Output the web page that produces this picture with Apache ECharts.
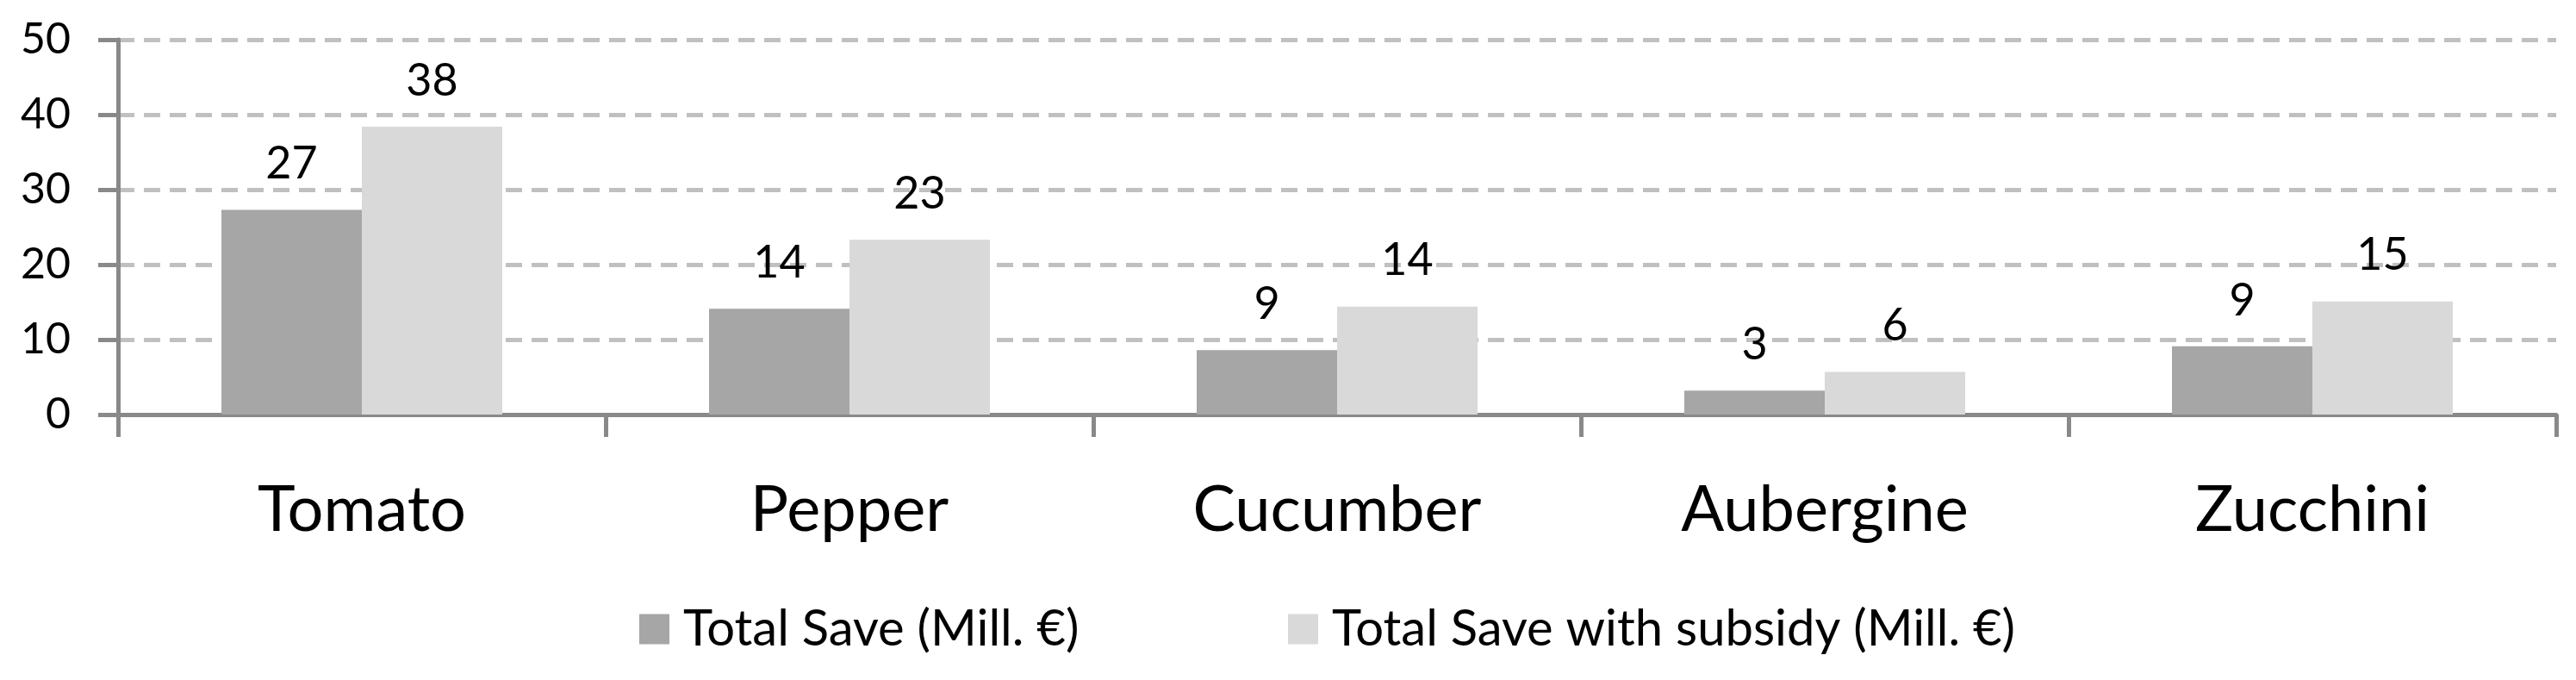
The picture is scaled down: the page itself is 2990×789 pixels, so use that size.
<!DOCTYPE html>
<html>
<head>
<meta charset="utf-8">
<script src="https://cdn.jsdelivr.net/npm/echarts@6/dist/echarts.min.js"></script>
<style>
html,body{margin:0;padding:0;background:#fff;}
#chart{width:2990px;height:789px;}
</style>
</head>
<body>
<div id="chart"></div>
<script>
const categories = ['Tomato', 'Pepper', 'Cucumber', 'Aubergine', 'Zucchini'];
const seriesNames = ['Total Save (Mill. €)', 'Total Save with subsidy (Mill. €)'];
const totalSave = [27.3, 14.1, 8.6, 3.2, 9.1];
const totalSaveSubsidy = [38.4, 23.3, 14.4, 5.7, 15.1];
const yTicks = [0, 10, 20, 30, 40, 50];

const FONT = 'Lato';
const chart = echarts.init(document.getElementById('chart'), null, {renderer: 'canvas'});
const labelStyle = {
  show: true, position: 'top', distance: 27,
  fontFamily: FONT, fontSize: 52, color: '#000',
  formatter: p => String(Math.round(p.value))
};
const legendText = {fontFamily: FONT, fontSize: 58, color: '#000', padding: [0, 0, 0, 11]};
chart.setOption({
  animation: false,
  backgroundColor: '#fff',
  grid: {left: 137, right: 23, top: 46, bottom: 308, containLabel: false},
  legend: [
    {data: [seriesNames[0]], left: 737, top: 696, itemWidth: 35, itemHeight: 35, itemGap: 0,
     icon: 'rect', textStyle: legendText},
    {data: [seriesNames[1]], left: 1490, top: 696, itemWidth: 35, itemHeight: 35, itemGap: 0,
     icon: 'rect', textStyle: legendText}
  ],
  xAxis: {
    type: 'category', data: categories,
    axisLine: {show: true, lineStyle: {color: '#898989', width: 5}},
    axisTick: {show: true, length: 26, lineStyle: {color: '#898989', width: 5}},
    axisLabel: {fontFamily: FONT, fontSize: 74, color: '#000', margin: 74}
  },
  yAxis: {
    type: 'value', min: yTicks[0], max: yTicks[yTicks.length - 1], interval: 10,
    axisLine: {show: true, lineStyle: {color: '#898989', width: 5}},
    axisTick: {show: true, length: 23, lineStyle: {color: '#898989', width: 5}},
    axisLabel: {fontFamily: FONT, fontSize: 50, color: '#000', margin: 55},
    splitLine: {show: true, lineStyle: {color: '#c0c0c0', width: 5, type: [19, 11]}}
  },
  series: [
    {name: seriesNames[0], type: 'bar', data: totalSave, barWidth: 163, barGap: '0%',
     itemStyle: {color: '#a6a6a6'}, label: labelStyle},
    {name: seriesNames[1], type: 'bar', data: totalSaveSubsidy, barWidth: 163, barGap: '0%',
     itemStyle: {color: '#d9d9d9'}, label: labelStyle}
  ]
});
</script>
</body>
</html>
